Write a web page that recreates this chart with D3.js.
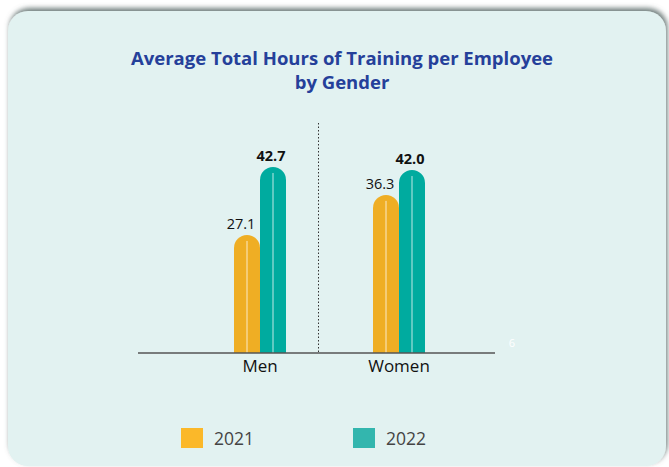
<!DOCTYPE html>
<html>
<head>
<meta charset="utf-8">
<script src="https://cdn.jsdelivr.net/npm/d3@7"></script>
<style>
  html, body { margin: 0; padding: 0; background: #ffffff; }
  svg { display: block; }
</style>
</head>
<body>
<div id="chart"></div>
<script>
'use strict';

// Chart data
const categories = ['Men', 'Women'];
const years = ['2021', '2022'];
const values2021 = [27.1, 36.3];
const values2022 = [42.7, 42.0];
const yearColors = ['#efae24', '#00ab9f'];
const legendColors = ['#fbb829', '#33b6ae'];

const width = 669, height = 467;

const svg = d3.select('#chart')
    .append('svg')
    .attr('width', width)
    .attr('height', height);

// card shadow (top and right)
const defs = svg.append('defs');
const shadow = defs.append('filter')
    .attr('id', 'shadow')
    .attr('x', '-10%').attr('y', '-10%')
    .attr('width', '120%').attr('height', '120%');
shadow.append('feDropShadow')
    .attr('dx', 1.5).attr('dy', -3)
    .attr('stdDeviation', 2.5)
    .attr('flood-color', '#5a6a68')
    .attr('flood-opacity', 0.85);

// background card
svg.append('rect')
    .attr('x', 8).attr('y', 11)
    .attr('width', 658).attr('height', 455)
    .attr('rx', 20)
    .attr('fill', '#e2f2f1')
    .attr('filter', 'url(#shadow)');

// Title
const title = svg.append('text')
    .attr('text-anchor', 'middle')
    .attr('font-family', 'Open Sans, sans-serif')
    .attr('font-weight', 'bold')
    .attr('font-size', 18.5)
    .attr('fill', '#25409a');
title.append('tspan').attr('x', 342).attr('y', 65).text('Average Total Hours of Training per Employee');
title.append('tspan').attr('x', 342).attr('y', 89).text('by Gender');

// Scales
const baseY = 353;
const x = d3.scaleBand().domain(categories).range([190.5, 468.5]).padding(0);
const xInner = d3.scaleBand().domain(years).range([-26, 26]).padding(0);
const y = d3.scaleLinear().domain([0, 50]).range([baseY, baseY - 217.8]);

const data = [];
categories.forEach((c, i) => {
    data.push({cat: c, year: '2021', value: values2021[i], color: yearColors[0]});
    data.push({cat: c, year: '2022', value: values2022[i], color: yearColors[1]});
});

const chart = svg.append('g');

// divider between groups
chart.append('line')
    .attr('x1', 318.5).attr('x2', 318.5)
    .attr('y1', 123).attr('y2', baseY)
    .attr('stroke', '#333')
    .attr('stroke-width', 1)
    .attr('stroke-dasharray', '1.5,2');

// bars with rounded tops
function barPath(d) {
    const x0 = x(d.cat) + x.bandwidth() / 2 + xInner(d.year);
    const w = xInner.bandwidth();
    const r = w / 2;
    const top = y(d.value);
    return `M${x0},${baseY} L${x0},${top + r} A${r},${r} 0 0 1 ${x0 + w},${top + r} L${x0 + w},${baseY} Z`;
}

chart.selectAll('path.bar')
    .data(data)
    .join('path')
    .classed('bar', true)
    .attr('d', barPath)
    .attr('fill', d => d.color);

// thin white highlight line in each bar
chart.selectAll('line.shine')
    .data(data)
    .join('line')
    .classed('shine', true)
    .attr('x1', d => x(d.cat) + x.bandwidth() / 2 + xInner(d.year) + xInner.bandwidth() / 2)
    .attr('x2', d => x(d.cat) + x.bandwidth() / 2 + xInner(d.year) + xInner.bandwidth() / 2)
    .attr('y1', d => y(d.value) + 6)
    .attr('y2', baseY)
    .attr('stroke', '#ffffff')
    .attr('stroke-opacity', 0.75)
    .attr('stroke-width', 1);

// value labels
chart.selectAll('text.value')
    .data(data)
    .join('text')
    .classed('value', true)
    .attr('x', d => x(d.cat) + x.bandwidth() / 2 + xInner(d.year) + xInner.bandwidth() / 2 + (d.year === '2021' ? -6 : -2))
    .attr('y', d => y(d.value) - 6)
    .attr('text-anchor', 'middle')
    .attr('font-family', 'Open Sans, sans-serif')
    .attr('font-size', 14.5)
    .attr('font-weight', d => d.year === '2022' ? 'bold' : 'normal')
    .attr('fill', '#111')
    .text(d => d.value.toFixed(1));

// baseline
chart.append('line')
    .attr('x1', 138).attr('x2', 495)
    .attr('y1', baseY).attr('y2', baseY)
    .attr('stroke', '#555')
    .attr('stroke-width', 1.5);

// category axis labels
const xAxis = chart.append('g')
    .attr('transform', `translate(0,${baseY})`)
    .call(d3.axisBottom(x).tickSize(0).tickPadding(7));
xAxis.select('.domain').remove();
xAxis.selectAll('text')
    .attr('font-family', 'Open Sans, sans-serif')
    .attr('font-size', 17)
    .attr('fill', '#111');

// stray page mark
svg.append('text')
    .attr('x', 512).attr('y', 347)
    .attr('text-anchor', 'middle')
    .attr('font-family', 'Open Sans, sans-serif')
    .attr('font-size', 11)
    .attr('fill', '#ffffff')
    .text('6');

// legend
const legendX = [181, 353];
const legend = svg.selectAll('g.legend')
    .data(years)
    .join('g')
    .classed('legend', true)
    .attr('transform', (d, i) => `translate(${legendX[i]},428)`);
legend.append('rect')
    .attr('width', 22).attr('height', 20)
    .attr('fill', (d, i) => legendColors[i]);
legend.append('text')
    .attr('x', 33).attr('y', 17)
    .attr('font-family', 'Open Sans, sans-serif')
    .attr('font-size', 17.5)
    .attr('fill', '#444')
    .text(d => d);
</script>
</body>
</html>
